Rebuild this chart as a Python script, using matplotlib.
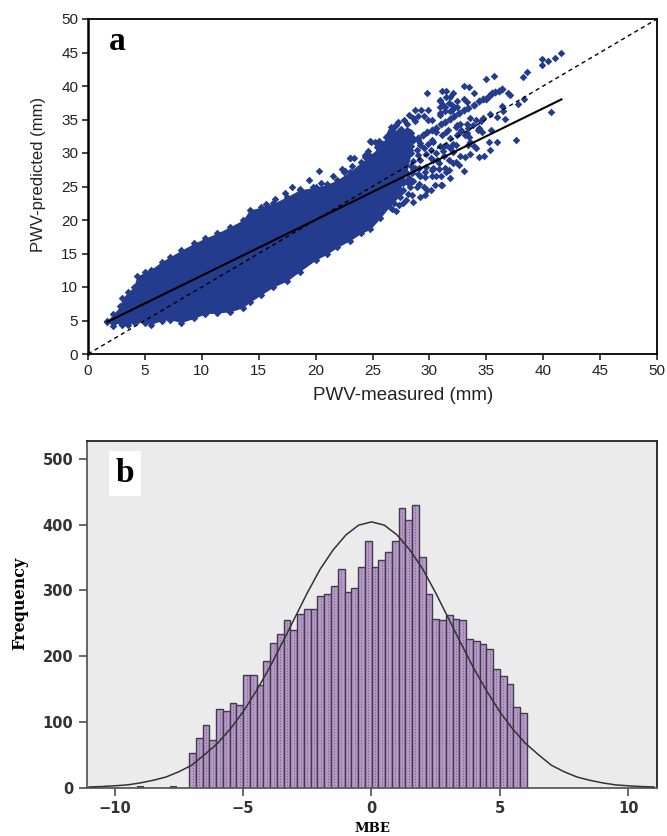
import matplotlib
matplotlib.use("Agg")
import matplotlib.pyplot as plt
import numpy as np

plt.rcParams["font.family"] = ["Liberation Sans", "DejaVu Sans"]

# panel a: outline of the solid part of the cloud
env_x = [1.7, 2.2, 2.8, 3.0, 3.5, 4.0, 4.3, 5.0, 5.5, 6.5, 7.2, 8.2, 9.3, 10.3, 11.3, 12.5, 13.6, 14.2, 15.2,
         16.3, 17.5, 18.6, 20.0, 21.0, 21.9, 23.0, 24.0, 24.8, 25.7, 26.5, 27.3, 28.0, 28.4]
env_low = [4.8, 4.2, 4.8, 4.4, 4.3, 4.8, 5.0, 4.7, 4.4, 5.0, 5.1, 4.7, 5.3, 6.0, 6.1, 6.3, 6.9, 7.7, 8.8,
           10.0, 10.9, 12.3, 14.0, 14.9, 15.9, 16.9, 18.0, 18.6, 20.3, 22.0, 24.0, 27.0, 30.0]
env_high = [5.0, 5.9, 7.1, 8.3, 9.2, 10.0, 11.6, 12.2, 12.6, 13.8, 14.5, 15.5, 16.5, 17.3, 18.0, 19.0, 20.0,
            21.5, 21.9, 22.5, 23.5, 24.5, 24.9, 25.3, 26.0, 27.2, 28.6, 29.6, 31.2, 33.0, 33.3, 33.5, 33.0]

# dense ridge in the upper right
ridge_x = [26.6, 27.0, 27.4, 27.8, 28.2, 28.6, 29.0, 29.4, 29.8, 30.2, 30.6, 31.0, 31.4, 31.8, 32.2, 32.6, 33.0,
           33.4, 33.9, 34.4, 34.7, 35.0, 35.2, 35.5, 35.8, 36.1, 36.4]
ridge_y = [30.0, 30.6, 30.9, 31.3, 31.6, 32.0, 32.3, 32.7, 33.1, 33.5, 33.8, 34.3, 34.7, 35.1, 35.5, 35.9, 36.4,
           36.7, 37.1, 37.7, 38.0, 38.1, 38.5, 38.9, 39.1, 39.3, 39.6]

# scattered points
sparse_x = [41.6, 41.0, 40.4, 39.9, 39.9, 38.6, 38.2, 35.7, 35.0, 33.5, 33.0, 31.5, 33.9, 40.7, 37.6, 35.9, 35.2,
            36.6, 35.9, 35.4, 35.3, 36.4, 36.5, 37.8, 38.3, 36.9, 37.1, 30.9, 31.2, 31.8, 32.1, 32.4, 32.0, 33.3,
            32.4, 31.8, 30.9, 31.4, 33.6, 34.1, 34.7, 34.5, 33.3, 32.7, 32.3, 32.8, 33.4, 33.8, 34.4, 34.6, 32.4,
            33.1, 33.5, 33.6, 31.6, 31.1, 31.5, 32.1, 31.8, 33.9, 35.3,
            29.8, 31.1, 31.5, 30.9, 31.7, 30.9, 32.2, 28.7, 29.3, 29.9, 30.9, 31.4, 32.0, 33.0, 28.0, 28.7, 29.9,
            27.1, 26.5, 27.6, 28.3, 24.8, 23.0, 24.3, 22.6, 23.2, 25.9, 25.4, 29.2, 30.2, 31.5, 32.4, 32.6, 30.6,
            31.8, 33.3, 33.4, 32.3, 31.2, 30.1, 29.0, 30.3, 32.3, 33.0, 31.7, 31.8, 31.0, 30.3, 29.6, 29.2, 28.7,
            29.8, 31.0, 28.9, 27.7, 26.7, 28.3, 32.1, 32.7, 27.9, 27.4, 28.3, 27.1,
            32.6, 32.1, 31.5, 31.1, 30.5, 30.1, 29.6, 28.6, 27.1, 28.3, 29.2, 30.2, 28.0, 28.6, 27.4, 27.0, 26.4,
            26.1, 27.7, 29.2, 30.8, 34.4, 34.8, 34.1, 33.6, 33.1, 34.3, 27.0, 26.6, 24.9, 23.0, 23.4, 24.3, 20.3,
            19.4, 19.8, 20.5, 18.6, 19.0, 22.5, 23.9, 21.5, 22.3, 24.6, 25.2, 26.3, 25.0, 16.4, 17.3, 15.6, 17.9,
            28.3, 28.6, 29.0, 29.2, 28.4, 28.9, 29.5, 29.9, 30.3, 30.9, 31.2, 30.6, 29.7, 30.1, 30.7, 31.3, 31.7,
            29.2, 28.6, 28.4, 29.1, 29.7, 30.3, 30.8, 31.4, 28.5, 29.0, 29.6, 30.2, 30.6, 28.2, 28.6, 29.1, 29.5,
            28.2, 27.7, 27.6, 28.1, 28.5, 27.4, 27.9, 26.9, 26.7, 27.3, 26.6, 27.2, 27.8, 28.2, 28.6, 29.0, 29.5,
            30.2, 27.5, 26.9, 26.2, 25.6]
sparse_y = [44.9, 44.2, 43.7, 44.1, 43.1, 42.1, 41.4, 41.5, 41.0, 39.9, 40.0, 39.3, 38.9, 36.1, 31.9, 31.6, 31.7,
            35.1, 35.3, 33.5, 35.8, 37.0, 36.3, 37.3, 38.0, 39.0, 38.6, 37.8, 37.2, 38.4, 38.9, 37.7, 37.2, 37.6,
            36.8, 36.2, 36.0, 36.9, 35.2, 35.0, 35.2, 34.8, 34.4, 34.4, 33.9, 33.4, 33.7, 34.2, 33.8, 33.2, 32.7,
            32.7, 32.4, 31.7, 33.4, 32.7, 31.2, 31.4, 30.7, 31.0, 30.5,
            38.9, 39.3, 38.4, 37.9, 37.4, 36.9, 36.9, 36.4, 36.4, 36.4, 35.7, 36.2, 36.4, 38.0, 34.4, 34.8, 35.0,
            34.2, 33.2, 32.9, 33.2, 31.8, 29.2, 29.7, 27.3, 28.0, 31.4, 30.9, 31.2, 31.9, 33.2, 34.2, 33.0, 33.2,
            32.2, 33.0, 31.2, 31.2, 30.9, 30.4, 29.7, 29.0, 28.7, 27.3, 27.5, 26.3, 26.5, 27.7, 27.2, 26.5, 27.7,
            24.5, 25.2, 25.0, 24.5, 23.7, 26.0, 30.2, 29.5, 29.4, 28.7, 30.4, 31.0,
            28.2, 28.5, 27.2, 25.2, 25.2, 24.5, 23.7, 22.7, 21.3, 25.0, 26.5, 27.5, 26.0, 27.5, 24.5, 23.4, 23.0,
            24.0, 22.5, 23.5, 28.5, 29.4, 29.6, 30.8, 29.8, 29.4, 33.4, 34.1, 33.4, 31.7, 29.2, 29.2, 29.4, 27.3,
            26.0, 25.0, 25.5, 24.7, 24.0, 27.2, 27.7, 26.6, 27.6, 30.3, 31.6, 32.6, 29.6, 23.2, 24.1, 22.4, 25.0,
            33.0, 32.2, 32.0, 31.5, 31.0, 30.4, 30.8, 31.4, 31.6, 31.0, 30.3, 30.0, 29.8, 29.2, 29.0, 29.5, 29.0,
            29.0, 28.8, 28.0, 27.8, 27.9, 27.6, 27.6, 27.7, 27.0, 26.8, 26.4, 26.5, 26.6, 26.2, 25.8, 25.4, 25.0,
            25.4, 25.5, 24.3, 23.9, 23.7, 23.4, 23.0, 22.6, 21.7, 22.2, 33.9, 34.6, 34.9, 35.6, 35.2, 35.5, 35.5,
            35.0, 33.6, 33.1, 32.4, 31.8]

fit_x = [1.7, 41.6]
fit_y = [4.8, 38.0]
one_to_one = [0, 50]

# panel b: histogram of MBE
bar_start = -7.1
bar_width = 0.263
freq = [52, 75, 95, 72, 120, 117, 128, 125, 171, 171, 156, 193, 220, 234, 255, 239, 264, 272, 271, 291,
        294, 307, 332, 297, 303, 336, 375, 335, 346, 358, 375, 425, 407, 429, 350, 295, 257, 254, 262, 257,
        255, 226, 223, 218, 210, 180, 170, 157, 122, 113]
tiny_x = [-9.0, -7.7]
tiny_h = [2, 3]
curve_x = [-11, -10.5, -10, -9.5, -9, -8.5, -8, -7.5, -7, -6.5, -6, -5.5, -5, -4.5, -4, -3.5, -3, -2.5, -2, -1.5, -1, -0.5, 0,
           0.5, 1, 1.5, 2, 2.5, 3, 3.5, 4, 4.5, 5, 5.5, 6, 6.5, 7, 7.5, 8, 8.5, 9, 9.5, 10, 10.5, 11]
curve_y = [0.8, 1.5, 2.6, 4, 7, 11, 16, 24, 34, 50, 67, 89, 115, 146, 180, 218, 257, 296, 332, 361, 384, 399, 404,
           399, 384, 361, 332, 296, 257, 218, 180, 146, 115, 89, 67, 50, 34, 24, 16, 11, 7, 4, 2.6, 1.5, 0.8]

W, H = 667, 836
fig = plt.figure(figsize=(W / 100, H / 100), dpi=100)

# ---- panel a
blue = "#233c8e"
ax = fig.add_axes([88 / W, 1 - 354 / H, 569 / W, 335 / H])
ax.fill_between(env_x, env_low, env_high, color=blue, lw=0, zorder=2)
ax.scatter(env_x, env_low, marker="D", s=15, color=blue, lw=0, zorder=2)
ax.scatter(env_x, env_high, marker="D", s=15, color=blue, lw=0, zorder=2)
ax.scatter(ridge_x, ridge_y, marker="D", s=18, color=blue, lw=0, zorder=2)
ax.scatter(sparse_x, sparse_y, marker="D", s=15, color=blue, lw=0, zorder=2)
ax.plot(one_to_one, one_to_one, color="black", lw=1, ls=(0, (3, 2.5)), zorder=3)
ax.plot(fit_x, fit_y, color="black", lw=1.5, zorder=4)
ax.set_xlim(0, 50)
ax.set_ylim(0, 50)
ax.set_xticks(range(0, 51, 5))
ax.set_yticks(range(0, 51, 5))
ax.tick_params(labelsize=11, length=4, width=1.2, pad=3, colors="#222222")
for s in ax.spines.values():
    s.set_linewidth(1.3)
ax.spines["left"].set_linewidth(1.8)
ax.set_xlabel("PWV-measured (mm)", fontsize=13.5, color="#222222", labelpad=7, x=0.5536)
ax.set_ylabel("PWV-predicted (mm)", fontsize=12, color="#222222", labelpad=11, y=0.535)
ax.text(2.6, 46.6, "a", family="Liberation Serif", weight="bold", fontsize=24, ha="center", va="center")

# ---- panel b
gray = "#5a5a5a"
bx = fig.add_axes([87 / W, 1 - 787.5 / H, 570 / W, 346.5 / H], facecolor="#ebebeb")
centers = bar_start + bar_width * (np.arange(len(freq)) + 0.5)
bx.bar(centers, freq, width=bar_width, color="#b899c8", edgecolor="#3f3a4c", lw=1.0, zorder=2)
bx.vlines(centers, 0, freq, colors="#7a648e", linestyles=(0, (1, 1.5)), lw=0.8, zorder=3)
bx.bar(tiny_x, tiny_h, width=bar_width, color="#3f3a4c", lw=0, zorder=2)
bx.plot(curve_x, curve_y, color="#333333", lw=1.1, zorder=4)
bx.set_xlim(-11.08, 11.12)
bx.set_ylim(0, 527)
bx.set_xticks([-10, -5, 0, 5, 10])
bx.set_xticklabels(["\u221210", "\u22125", "0", "5", "10"])
bx.set_yticks(range(0, 501, 100))
bx.tick_params(labelsize=10.5, length=6, width=1.3, color=gray, labelcolor="#333333", pad=4)
for lab in bx.get_xticklabels() + bx.get_yticklabels():
    lab.set_family("DejaVu Sans")
    lab.set_weight("bold")
for s in bx.spines.values():
    s.set_linewidth(1.3)
    s.set_color(gray)
bx.spines["right"].set_color("#222222")
bx.spines["top"].set_color("#222222")
bx.set_xlabel("MBE", family="DejaVu Serif", weight="bold", fontsize=9.5, labelpad=4)
bx.set_ylabel("Frequency", family="DejaVu Serif", weight="bold", fontsize=11.5, labelpad=10, y=0.53)
bx.text(-9.6, 478, "b", family="Liberation Serif", weight="bold", fontsize=24, ha="center", va="center",
        bbox=dict(facecolor="white", edgecolor="none", pad=5), zorder=5)

fig.savefig("out.png", dpi=100)
